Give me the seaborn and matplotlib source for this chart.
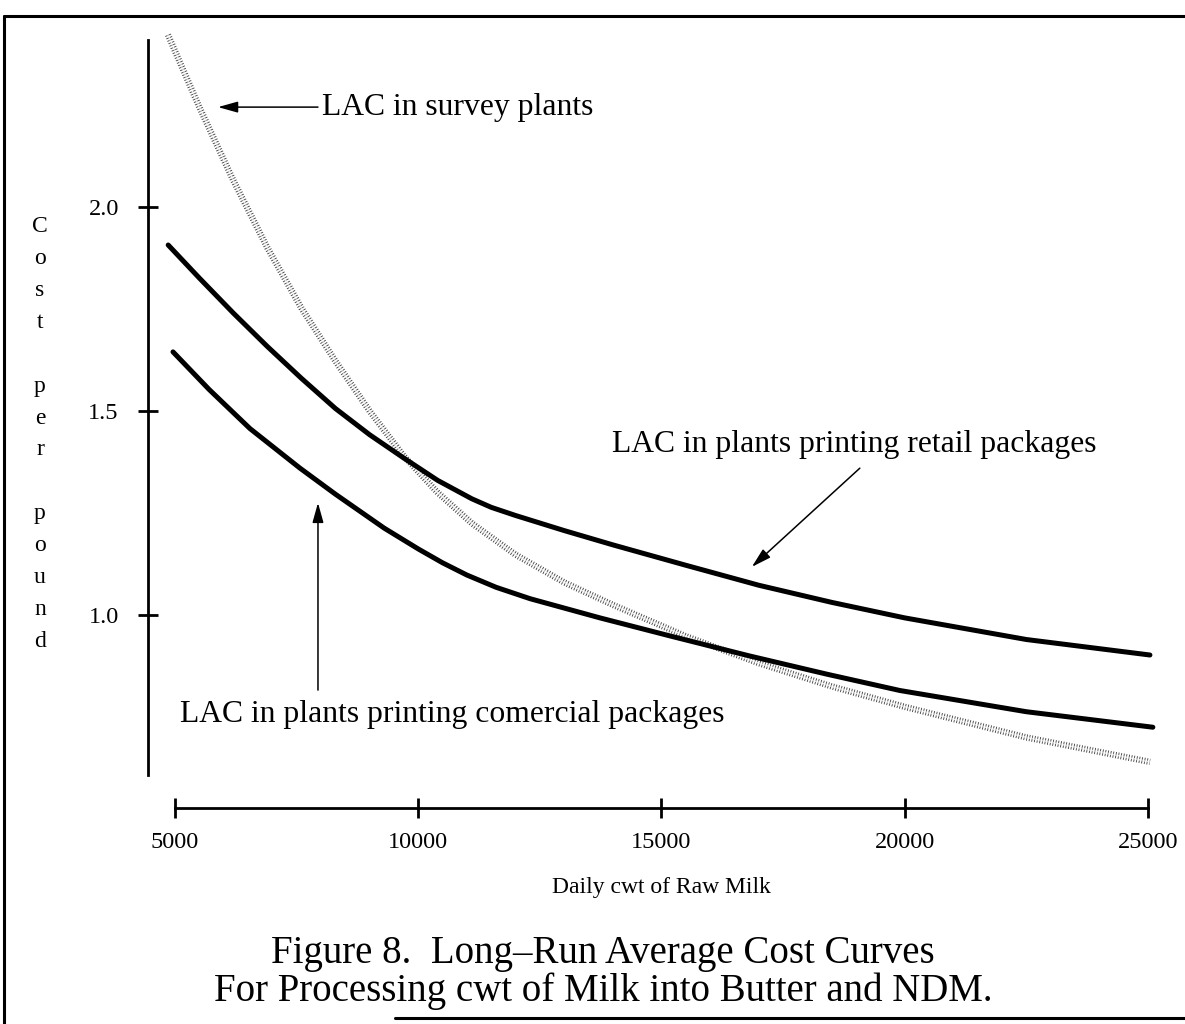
import matplotlib
matplotlib.use("Agg")
import matplotlib.pyplot as plt
import matplotlib.patheffects as pe
from matplotlib.lines import Line2D
import numpy as np
import pandas as pd
import seaborn as sns

# values (cwt/day, $ per pound)
survey_x = [4856, 5500, 6200, 6900, 7600, 8300, 9000, 9700, 10400, 11100, 12000,
            13000, 14000, 15500, 17000, 18500, 20000, 22500, 25040]
survey_y = [2.422, 2.245, 2.065, 1.900, 1.752, 1.622, 1.500, 1.390, 1.300, 1.225, 1.148,
            1.080, 1.025, 0.948, 0.882, 0.825, 0.775, 0.700, 0.640]

retail_x = [4860, 5500, 6200, 6900, 7600, 8300, 9000, 9700, 10400, 11100, 11500, 12000,
            13000, 14000, 15500, 17000, 18500, 20000, 22500, 25040]
retail_y = [1.907, 1.826, 1.740, 1.658, 1.580, 1.506, 1.442, 1.385, 1.330, 1.285, 1.264,
            1.244, 1.207, 1.172, 1.122, 1.073, 1.031, 0.993, 0.940, 0.902]

comm_x = [4959, 5700, 6541, 7569, 8300, 9300, 10000, 10500, 11000, 11600, 12300, 13735,
          15200, 16800, 18400, 19900, 22500, 25100]
comm_y = [1.645, 1.553, 1.457, 1.360, 1.296, 1.213, 1.162, 1.128, 1.098, 1.068, 1.040,
          0.993, 0.948, 0.900, 0.855, 0.815, 0.763, 0.725]

x_ticks = [5000, 10000, 15000, 20000, 25000]
y_ticks = [1.0, 1.5, 2.0]
y_label = "Cost per pound"
x_label = "Daily cwt of Raw Milk"
title_lines = ["Figure 8.  Long\u2013Run Average Cost Curves",
               "For Processing cwt of Milk into Butter and NDM."]

sns.set_theme(style="white")
plt.rcParams["font.family"] = ["Liberation Serif", "DejaVu Serif"]
plt.rcParams["text.color"] = "black"

W, H = 1185, 1024
fig = plt.figure(figsize=(W / 100, H / 100), dpi=100)
ax = fig.add_axes([148 / W, 1 - 808 / H, (1160 - 148) / W, (808 - 30) / H])

survey = pd.DataFrame({"x": survey_x, "y": survey_y})
retail = pd.DataFrame({"x": retail_x, "y": retail_y})
comm = pd.DataFrame({"x": comm_x, "y": comm_y})

# hatched grey survey curve: white dashes over a dark grey stroke
sns.lineplot(data=survey, x="x", y="y", ax=ax, color="white", lw=1.2,
             linestyle=(0, (0.5, 1.1)),
             path_effects=[pe.Stroke(linewidth=4.6, foreground="#3a3a3a"), pe.Normal()])
sns.lineplot(data=retail, x="x", y="y", ax=ax, color="black", lw=3.6)
sns.lineplot(data=comm, x="x", y="y", ax=ax, color="black", lw=3.6)

ax.set_xlim(4445, 25247)
ax.set_ylim(0.527, 2.434)

for s in ["top", "right"]:
    ax.spines[s].set_visible(False)
ax.spines["left"].set_bounds(0.608, 2.409)
ax.spines["bottom"].set_bounds(5000, 25000)
for s in ["left", "bottom"]:
    ax.spines[s].set_color("black")
    ax.spines[s].set_linewidth(2.0)

ax.set_xticks(x_ticks)
ax.set_xticklabels([str(v) for v in x_ticks])
ax.set_yticks(y_ticks)
ax.set_yticklabels([f"{v:.1f}" for v in y_ticks])
ax.tick_params(axis="both", direction="inout", length=14, width=2, color="black",
               labelsize=17.5, labelcolor="black")
ax.tick_params(axis="y", pad=14, left=True)
ax.tick_params(axis="x", pad=10, bottom=True)

ax.set_xlabel("")
ax.set_ylabel("")
stacked = "\n".join(" " if c == " " else c for c in y_label)
fig.text(40 / W, 1 - 434 / H, stacked, ha="center", va="center", fontsize=17,
         linespacing=1.68)
fig.text(661 / W, 1 - 888 / H, x_label, ha="center", va="center", fontsize=17)

arrow = dict(arrowstyle="-|>,head_length=1.0,head_width=0.28", color="black", lw=1.1,
             shrinkA=0, shrinkB=0)
ax.annotate("", xy=(5884, 2.245), xytext=(7939, 2.245), arrowprops=arrow)
ax.text(8021, 2.245, "LAC in survey plants", fontsize=22.8, va="center", ha="left")

ax.annotate("", xy=(16857, 1.118), xytext=(19077, 1.360), arrowprops=arrow)
ax.text(13980, 1.417, "LAC in plants printing retail packages", fontsize=22.8,
        va="center", ha="left")

ax.annotate("", xy=(7939, 1.275), xytext=(7939, 0.816), arrowprops=arrow)
ax.text(5103, 0.755, "LAC in plants printing comercial packages", fontsize=22.8,
        va="center", ha="left")

fig.text(603 / W, 1 - 954 / H, title_lines[0], ha="center", va="center", fontsize=28)
fig.text(603 / W, 1 - 991 / H, title_lines[1], ha="center", va="center", fontsize=28)

# scanned page frame
frame = dict(color="black", lw=2.2, transform=fig.transFigure)
fig.add_artist(Line2D([4 / W, 1], [1 - 16 / H, 1 - 16 / H], **frame))
fig.add_artist(Line2D([4 / W, 4 / W], [0, 1 - 16 / H], **frame))
fig.add_artist(Line2D([395 / W, 1], [1 - 1018 / H, 1 - 1018 / H], **frame))

fig.savefig("out.png", dpi=100)
